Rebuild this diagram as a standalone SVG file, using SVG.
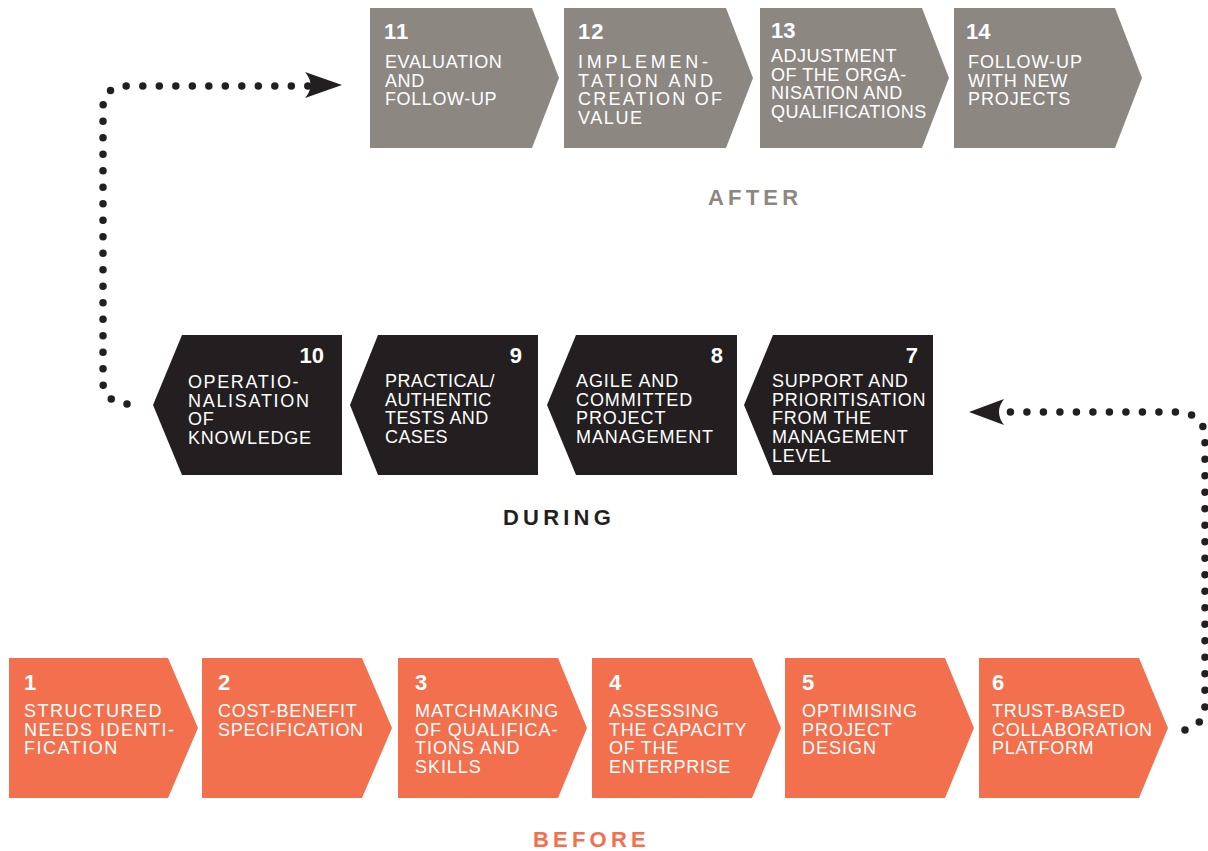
<svg xmlns="http://www.w3.org/2000/svg" width="1208" height="851" viewBox="0 0 1208 851">
<style>
.after{fill:#8d8781}
.during{fill:#231f20}
.before{fill:#f2704d}
.num{font-family:"Liberation Sans",Arial,sans-serif;font-weight:bold;font-size:22px;fill:#fff}
.lbl{font-family:"Liberation Sans",Arial,sans-serif;font-size:18px;fill:#fff}
.sec{font-family:"Liberation Sans",Arial,sans-serif;font-weight:bold;font-size:22px;letter-spacing:4.2px}
.dots{fill:none;stroke:#231f20;stroke-width:7.5;stroke-linecap:round;stroke-dasharray:0 16.5}
.head{fill:#231f20}
</style>
<rect width="1208" height="851" fill="#fff"/>

<g id="connectors">
  <path class="dots" d="M127,404 C112,402 103,396 103,382 L103,108 C103,93 112,86 128,86 L308,86"/>
  <path class="head" d="M342,85 L305,72 Q316,85 305,98 Z"/>
  <path class="dots" d="M1185,730 C1199,726 1205,718 1205,704 L1205,438 C1205,422 1195,412 1176,412 L1005,412"/>
  <path class="head" d="M969,412 L1004,399 Q994,412 1004,425 Z"/>
</g>

<!-- AFTER row -->
<g id="node11">
  <polygon class="after" points="370,8 532,8 559,78 532,148 370,148"/>
  <text class="num" x="384" y="39" letter-spacing="1">11</text>
  <text class="lbl" x="385" y="68" letter-spacing="0.6"><tspan x="385">EVALUATION</tspan><tspan x="385" dy="18.7">AND</tspan><tspan x="385" dy="18.7">FOLLOW-UP</tspan></text>
</g>
<g id="node12">
  <polygon class="after" points="564,8 726,8 753,78 726,148 564,148"/>
  <text class="num" x="578" y="39" letter-spacing="1">12</text>
  <text class="lbl" x="578" y="68" textLength="130" lengthAdjust="spacing">IMPLEMEN-</text>
  <text class="lbl" x="578" y="86.7" textLength="135" lengthAdjust="spacing">TATION AND</text>
  <text class="lbl" x="578" y="105.4" textLength="144" lengthAdjust="spacing">CREATION OF</text>
  <text class="lbl" x="578" y="124.1" textLength="64" lengthAdjust="spacing">VALUE</text>
</g>
<g id="node13">
  <polygon class="after" points="760,8 922,8 949,78 922,148 760,148"/>
  <text class="num" x="771" y="38">13</text>
  <text class="lbl" x="771" y="62" letter-spacing="0.5"><tspan x="771">ADJUSTMENT</tspan><tspan x="771" dy="18.7">OF THE ORGA-</tspan><tspan x="771" dy="18.7">NISATION AND</tspan><tspan x="771" dy="18.7">QUALIFICATIONS</tspan></text>
</g>
<g id="node14">
  <polygon class="after" points="954,8 1115,8 1142,78 1115,148 954,148"/>
  <text class="num" x="966" y="39">14</text>
  <text class="lbl" x="968" y="68" letter-spacing="0.9"><tspan x="968">FOLLOW-UP</tspan><tspan x="968" dy="18.7">WITH NEW</tspan><tspan x="968" dy="18.7">PROJECTS</tspan></text>
</g>
<text class="sec after" x="708" y="205">AFTER</text>

<!-- DURING row -->
<g id="node10">
  <polygon class="during" points="182,335 342,335 342,475 182,475 153,405"/>
  <text class="num" x="324" y="363" text-anchor="end">10</text>
  <text class="lbl" x="188" y="388" letter-spacing="1.6">OPERATIO-</text>
  <text class="lbl" x="188" y="406.7" letter-spacing="1.7">NALISATION</text>
  <text class="lbl" x="188" y="425.4" letter-spacing="0.8">OF</text>
  <text class="lbl" x="188" y="444.1" letter-spacing="0.75">KNOWLEDGE</text>
</g>
<g id="node9">
  <polygon class="during" points="378,335 538,335 538,475 378,475 350,405"/>
  <text class="num" x="522" y="363" text-anchor="end">9</text>
  <text class="lbl" x="385" y="387" letter-spacing="0.4"><tspan x="385">PRACTICAL/</tspan><tspan x="385" dy="18.7">AUTHENTIC</tspan><tspan x="385" dy="18.7">TESTS AND</tspan><tspan x="385" dy="18.7">CASES</tspan></text>
</g>
<g id="node8">
  <polygon class="during" points="576,335 737,335 737,475 576,475 547,405"/>
  <text class="num" x="723" y="363" text-anchor="end">8</text>
  <text class="lbl" x="576" y="387" letter-spacing="0.9"><tspan x="576">AGILE AND</tspan><tspan x="576" dy="18.7">COMMITTED</tspan><tspan x="576" dy="18.7">PROJECT</tspan><tspan x="576" dy="18.7">MANAGEMENT</tspan></text>
</g>
<g id="node7">
  <polygon class="during" points="773,335 933,335 933,475 773,475 744,405"/>
  <text class="num" x="918" y="363" text-anchor="end">7</text>
  <text class="lbl" x="772" y="387" letter-spacing="0.75"><tspan x="772">SUPPORT AND</tspan><tspan x="772" dy="18.7">PRIORITISATION</tspan><tspan x="772" dy="18.7">FROM THE</tspan><tspan x="772" dy="18.7">MANAGEMENT</tspan><tspan x="772" dy="18.7">LEVEL</tspan></text>
</g>
<text class="sec during" x="503" y="525">DURING</text>

<!-- BEFORE row -->
<g id="node1">
  <polygon class="before" points="9,658 168,658 198,728 168,798 9,798"/>
  <text class="num" x="24" y="690">1</text>
  <text class="lbl" x="24" y="717" letter-spacing="1.5"><tspan x="24">STRUCTURED</tspan><tspan x="24" dy="18.7">NEEDS IDENTI-</tspan><tspan x="24" dy="18.7">FICATION</tspan></text>
</g>
<g id="node2">
  <polygon class="before" points="202,658 362,658 392,728 362,798 202,798"/>
  <text class="num" x="218" y="690">2</text>
  <text class="lbl" x="218" y="717" letter-spacing="0.7"><tspan x="218">COST-BENEFIT</tspan><tspan x="218" dy="18.7">SPECIFICATION</tspan></text>
</g>
<g id="node3">
  <polygon class="before" points="398,658 558,658 587,728 558,798 398,798"/>
  <text class="num" x="415" y="690">3</text>
  <text class="lbl" x="415" y="717" letter-spacing="0.95"><tspan x="415">MATCHMAKING</tspan><tspan x="415" dy="18.7">OF QUALIFICA-</tspan><tspan x="415" dy="18.7">TIONS AND</tspan><tspan x="415" dy="18.7">SKILLS</tspan></text>
</g>
<g id="node4">
  <polygon class="before" points="592,658 752,658 781,728 752,798 592,798"/>
  <text class="num" x="609" y="690">4</text>
  <text class="lbl" x="609" y="717" letter-spacing="0.7"><tspan x="609">ASSESSING</tspan><tspan x="609" dy="18.7">THE CAPACITY</tspan><tspan x="609" dy="18.7">OF THE</tspan><tspan x="609" dy="18.7">ENTERPRISE</tspan></text>
</g>
<g id="node5">
  <polygon class="before" points="785,658 945,658 974,728 945,798 785,798"/>
  <text class="num" x="802" y="690">5</text>
  <text class="lbl" x="802" y="717" letter-spacing="1"><tspan x="802">OPTIMISING</tspan><tspan x="802" dy="18.7">PROJECT</tspan><tspan x="802" dy="18.7">DESIGN</tspan></text>
</g>
<g id="node6">
  <polygon class="before" points="979,658 1139,658 1168,728 1139,798 979,798"/>
  <text class="num" x="992" y="690">6</text>
  <text class="lbl" x="992" y="717" letter-spacing="0.7"><tspan x="992">TRUST-BASED</tspan><tspan x="992" dy="18.7">COLLABORATION</tspan><tspan x="992" dy="18.7">PLATFORM</tspan></text>
</g>
<text class="sec before" x="533" y="847">BEFORE</text>
</svg>
